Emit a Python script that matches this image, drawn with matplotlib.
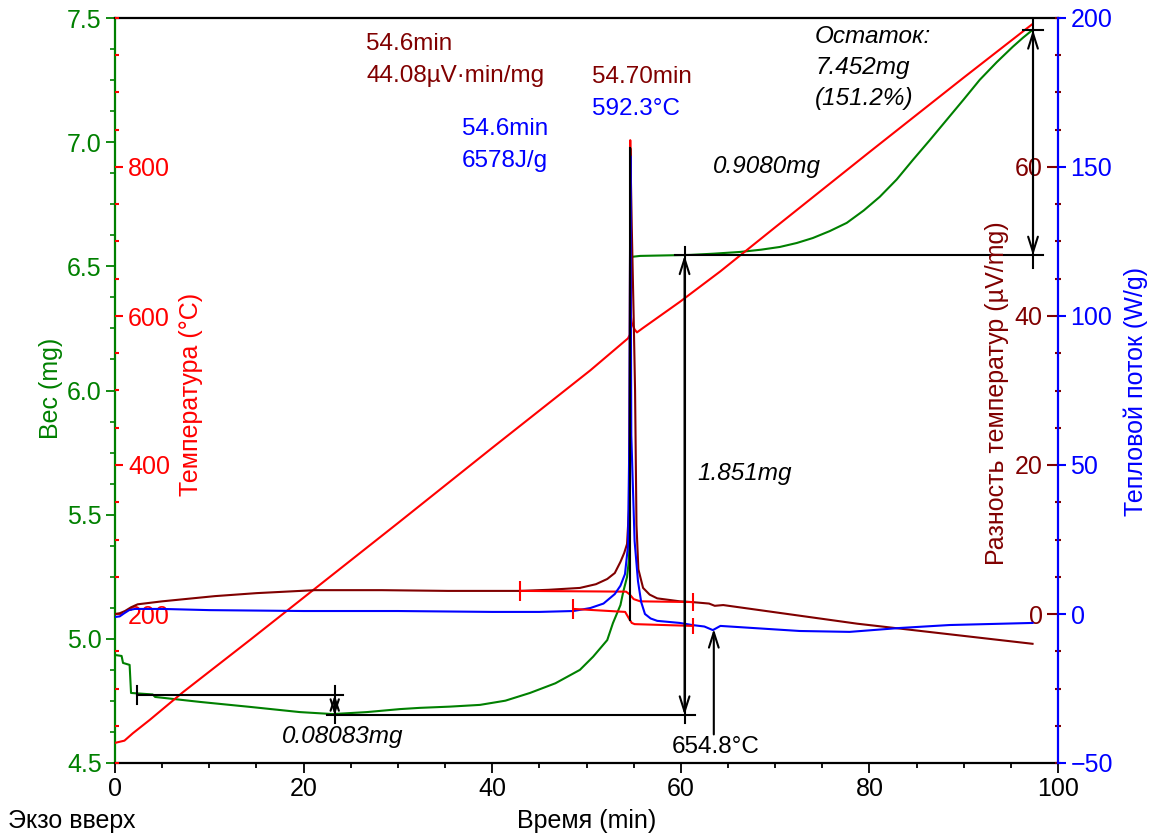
import matplotlib
matplotlib.use("Agg")
import matplotlib.pyplot as plt
from matplotlib.ticker import MultipleLocator

plt.rcParams['font.family'] = ['Liberation Sans', 'DejaVu Sans']

GREEN = '#008000'
RED = '#ff0000'
BROWN = '#800000'
BLUE = '#0000ff'

# TG - weight (mg) vs time (min)
tg_time = [0, 0.7, 0.85, 1.55, 1.7, 4.0, 4.25, 9.0, 14.3, 19.6, 23.1, 26.7, 30.2, 32.3,
           35.5, 38.7, 41.4, 44.0, 46.7, 49.3, 50.7, 52.2, 52.8, 53.6, 53.9, 54.3, 54.5,
           54.6, 54.66, 54.75, 55.7, 61.0, 63.5, 66.3, 68.5, 70.5, 72.3, 74.0, 75.8, 77.6,
           79.4, 81.1, 82.9, 84.6, 86.4, 88.2, 90.0, 91.7, 93.5, 95.2, 96.3, 97.3]
tg_mass = [4.935, 4.931, 4.903, 4.895, 4.782, 4.776, 4.766, 4.746, 4.726, 4.705, 4.697, 4.705,
           4.717, 4.722, 4.727, 4.734, 4.751, 4.782, 4.821, 4.875, 4.928, 4.995, 5.063, 5.136,
           5.190, 5.249, 5.318, 5.45, 6.40, 6.538, 6.542, 6.546, 6.551, 6.558, 6.567, 6.578,
           6.594, 6.614, 6.642, 6.675, 6.725, 6.780, 6.850, 6.928, 7.008, 7.090, 7.172, 7.251,
           7.322, 7.384, 7.421, 7.452]

# sample temperature (C)
temp_time = [0, 1, 1.9, 3.7, 7.2, 14.3, 21.0, 30, 40, 50.4, 54.4, 54.6, 54.64, 54.7, 54.8,
             55.1, 55.35, 56, 59.9, 64.2, 70, 80, 90, 97.2]
temp_val = [27, 30, 40, 58, 95, 165, 232, 322, 423, 527, 570, 575, 836, 600, 591,
            582, 578, 584, 619, 660, 719, 820, 920, 991]

# DTA (uV/mg)
dta_time = [0, 0.5, 1.06, 1.7, 2.4, 5.0, 10.6, 15.0, 21.2, 28.3, 35.3, 43.0, 46.0, 49.3, 51.0,
            52.2, 53.0, 53.6, 54.0, 54.3, 54.5, 54.6, 54.65, 54.8, 55.0, 55.15, 55.3, 55.5,
            56.0, 56.7, 57.5, 59.9, 61.2, 63.0, 63.6, 64.5, 78.7, 97.3]
dta_val = [0, 0.1, 0.4, 0.9, 1.3, 1.7, 2.4, 2.8, 3.2, 3.2, 3.1, 3.1, 3.25, 3.5, 4.0,
           4.7, 5.5, 7.0, 8.2, 9.4, 14, 40, 62.5, 52, 40, 30, 12, 6,
           3.5, 2.6, 2.1, 1.7, 1.6, 1.4, 1.1, 1.2, -1.3, -4.0]

# heat flow (W/g)
hf_time = [0, 0.5, 1.0, 1.5, 2.1, 5, 10, 20, 30, 40, 45, 48.6, 50.4, 51.8, 53.0, 53.6,
           54.08, 54.4, 54.55, 54.65, 54.75, 55.1, 55.46, 55.8, 56.2, 56.8, 57.5, 59.9,
           61.2, 62.5, 63.4, 64.2, 72.6, 77.9, 83.2, 88.5, 97.3]
hf_val = [-1.0, -0.8, 0.3, 1.3, 1.7, 1.7, 1.3, 1.0, 1.0, 0.7, 0.7, 1.0, 2.0, 3.5, 6.7, 9.5,
          13.4, 22.8, 60, 153.7, 60, 24.5, 11, 4, 0, -1.5, -2.3, -3.0,
          -3.7, -4.2, -5.4, -4.0, -5.7, -6.0, -4.7, -3.7, -3.0]

# integration baselines
dta_base_time = [42.95, 54.2, 54.6, 55.0, 55.7, 61.3]
dta_base_val = [3.1, 3.0, 2.6, 2.0, 1.7, 1.6]
hf_base_time = [48.6, 54.1, 54.5, 54.8, 55.1, 61.3]
hf_base_val = [1.7, 0.7, -1.5, -3.0, -3.4, -4.0]

# step analysis levels (mg)
w_low = 4.693
w_step = 4.774
w_plateau = 6.544
w_end = 7.452

W, H = 1151, 840
fig = plt.figure(figsize=(W / 100, H / 100), dpi=100)


def fxy(px, py):
    return px / W, 1 - py / H


ax = fig.add_axes([115 / W, 1 - 763 / H, 943 / W, 745 / H])
ax_t = ax.twinx()
ax_d = ax.twinx()
ax_h = ax.twinx()

# weight axis (left, green)
ax.set_xlim(0, 100)
ax.set_ylim(4.5, 7.5)
ax.xaxis.set_major_locator(MultipleLocator(20))
ax.xaxis.set_minor_locator(MultipleLocator(5))
ax.yaxis.set_major_locator(MultipleLocator(0.5))
ax.yaxis.set_minor_locator(MultipleLocator(0.125))
ax.yaxis.set_major_formatter(lambda v, p: f"{v:.1f}")
ax.tick_params(axis='x', which='major', direction='out', length=7, width=1.3, labelsize=18, pad=3)
ax.tick_params(axis='x', which='minor', direction='out', length=3.5, width=1.3)
ax.tick_params(axis='y', which='major', direction='out', length=6.5, width=1.3,
               color=GREEN, labelcolor=GREEN, labelsize=18, pad=3)
ax.tick_params(axis='y', which='minor', direction='out', length=3.5, width=1.2, color=GREEN)
ax.spines['left'].set_color(GREEN)
ax.spines['left'].set_linewidth(1.6)
ax.spines['right'].set_visible(False)
for s in ('top', 'bottom'):
    ax.spines[s].set_linewidth(1.6)
ax.plot(tg_time, tg_mass, color=GREEN, lw=1.5)

# temperature axis (left, inside, red)
ax_t.set_ylim(0, 1000)
ax_t.yaxis.tick_left()
ax_t.set_yticks([200, 400, 600, 800])
ax_t.yaxis.set_minor_locator(MultipleLocator(50))
ax_t.tick_params(axis='y', which='major', direction='in', length=6, width=1.5,
                 color=RED, labelcolor=RED, labelsize=18, pad=-9.5)
ax_t.tick_params(axis='y', which='minor', direction='in', length=3, width=1.5, color=RED)
plt.setp(ax_t.get_yticklabels(), ha='left')
for s in ax_t.spines.values():
    s.set_visible(False)
ax_t.plot(temp_time, temp_val, color=RED, lw=1.5)

# DTA axis (right, inside, brown)
ax_d.set_ylim(-20, 80)
ax_d.set_yticks([0, 20, 40, 60])
ax_d.yaxis.set_minor_locator(MultipleLocator(5))
ax_d.tick_params(axis='y', which='major', direction='in', length=8, width=1.5,
                 color=BROWN, labelcolor=BROWN, labelsize=18, pad=-11)
ax_d.tick_params(axis='y', which='minor', direction='inout', length=5, width=1.5, color=BROWN)
plt.setp(ax_d.get_yticklabels(), ha='right')
for s in ax_d.spines.values():
    s.set_visible(False)
ax_d.plot(dta_time, dta_val, color=BROWN, lw=1.5)
ax_d.plot(dta_base_time, dta_base_val, color=RED, lw=1.5)
ax_d.vlines([dta_base_time[0]], 1.7, 4.4, color=RED, lw=1.5)
ax_d.vlines([dta_base_time[-1]], 0.4, 2.8, color=RED, lw=1.5)

# heat flow axis (right, blue)
ax_h.set_ylim(-50, 200)
ax_h.yaxis.set_major_locator(MultipleLocator(50))
ax_h.tick_params(axis='y', which='major', direction='out', length=6, width=1.5,
                 color=BLUE, labelcolor=BLUE, labelsize=18, pad=3)
for s in ('top', 'bottom', 'left'):
    ax_h.spines[s].set_visible(False)
ax_h.spines['right'].set_color(BLUE)
ax_h.spines['right'].set_linewidth(1.6)
ax_h.plot(hf_time, hf_val, color=BLUE, lw=1.5)
ax_h.plot(hf_base_time, hf_base_val, color=RED, lw=1.5)
ax_h.vlines([hf_base_time[0]], -1.7, 5.0, color=RED, lw=1.5)
ax_h.vlines([hf_base_time[-1]], -6.7, -1.3, color=RED, lw=1.5)

# black analysis marks, drawn in weight coordinates on top
tw = ax.transData
k = dict(color='black', lw=1.5, transform=tw, clip_on=False)
arr = dict(arrowstyle='<->,head_length=1.1,head_width=0.35', color='black', lw=1.5,
           shrinkA=0, shrinkB=0)
ax_h.plot([54.65, 54.65], [6.977, 5.076], **k)
# 0.08083 mg step
ax_h.plot([2.33, 24.2], [w_step, w_step], **k)
ax_h.plot([2.33, 2.33], [w_step - 0.035, w_step + 0.035], **k)
ax_h.plot([23.3, 23.3], [w_step + 0.035, w_low - 0.03], **k)
ax_h.annotate('', xy=(23.3, w_low), xytext=(23.3, w_step), xycoords=tw, textcoords=tw,
              arrowprops=dict(arr, arrowstyle='<->,head_length=0.9,head_width=0.3'))
ax_h.plot([22.5, 61.5], [w_low, w_low], **k)
# 1.851 mg step
ax_h.plot([59.4, 98.4], [w_plateau, w_plateau], **k)
ax_h.plot([60.4, 60.4], [w_low - 0.03, w_plateau + 0.035], **k)
ax_h.annotate('', xy=(60.4, w_low), xytext=(60.4, w_plateau), xycoords=tw, textcoords=tw,
              arrowprops=arr)
# 0.9080 mg step
ax_h.plot([96.3, 98.4], [w_end, w_end], **k)
ax_h.plot([97.35, 97.35], [w_plateau - 0.05, w_end + 0.04], **k)
ax_h.annotate('', xy=(97.35, w_plateau), xytext=(97.35, w_end), xycoords=tw, textcoords=tw,
              arrowprops=arr)
# 654.8 C event arrow
ax_h.annotate('', xy=(63.5, 5.04), xytext=(63.5, 4.615), xycoords=tw, textcoords=tw,
              arrowprops=dict(arrowstyle='->,head_length=1.1,head_width=0.35', color='black',
                              lw=1.5, shrinkA=0, shrinkB=0))

# texts
fs = 17.5
def put(px, py, s, color='black', **kw):
    x, y = fxy(px, py)
    fig.text(x, y, s, color=color, fontsize=kw.pop('fontsize', fs), va='baseline', **kw)

put(366, 50, '54.6min', BROWN)
put(366, 82, '44.08µV·min/mg', BROWN)
put(592, 83, '54.70min', BROWN)
put(592, 115, '592.3°C', BLUE)
put(462, 135, '54.6min', BLUE)
put(462, 167, '6578J/g', BLUE)
put(815, 43, 'Остаток:', style='italic')
put(815, 74, '7.452mg', style='italic')
put(815, 105, '(151.2%)', style='italic')
put(713, 173, '0.9080mg', style='italic')
put(697, 480, '1.851mg', style='italic')
put(282, 743, '0.08083mg', style='italic')
put(672, 753, '654.8°C')
put(8, 828, 'Экзо вверх', fontsize=18)
put(587, 828, 'Время (min)', fontsize=18, ha='center')

def vlabel(px, py, s, color):
    x, y = fxy(px, py)
    fig.text(x, y, s, color=color, fontsize=18, rotation=90, ha='center', va='center')

vlabel(51, 388, 'Вес (mg)', GREEN)
vlabel(191, 394, 'Температура (°C)', RED)
vlabel(997, 393, 'Разность температур (µV/mg)', BROWN)
vlabel(1136, 392, 'Тепловой поток (W/g)', BLUE)

fig.savefig('out.png', dpi=100)
